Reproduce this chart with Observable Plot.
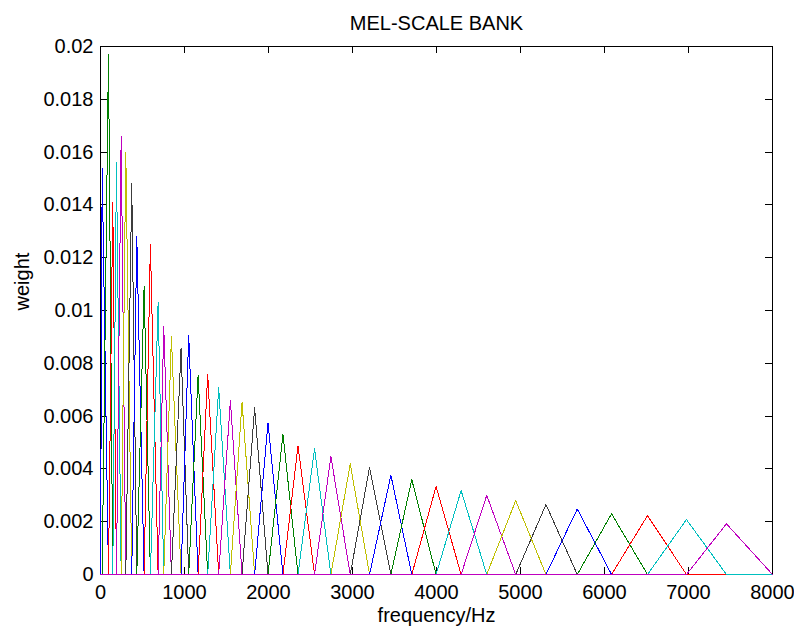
<!DOCTYPE html>
<html>
<head>
<meta charset="utf-8">
<script src="https://cdn.jsdelivr.net/npm/d3@7"></script>
<script src="https://cdn.jsdelivr.net/npm/@observablehq/plot@0.6"></script>
<style>
  body { margin: 0; background: #fff; }
  #chart svg { font-family: Arial, "Liberation Sans", sans-serif; display: block; }
</style>
</head>
<body>
<div id="chart"></div>
<script>
// Filter centre frequencies (Hz)
const centers = [20, 95, 146, 190, 246, 301, 372, 432, 519, 594, 686, 753, 844, 959,
  1050, 1162, 1276, 1407, 1546, 1685, 1835, 1994, 2172, 2351, 2548, 2743, 2973, 3203,
  3457, 3706, 3995, 4293, 4598, 4943, 5303, 5676, 6084, 6512, 6976, 7452];
// Peak weight of each filter
const peaks = [0.0154, 0.0197, 0.0141, 0.0156, 0.0166, 0.0160, 0.0148, 0.0128, 0.0109,
  0.0125, 0.0103, 0.0094, 0.0090, 0.00857, 0.00906, 0.00754, 0.00758, 0.00707, 0.00659,
  0.00653, 0.00631, 0.00574, 0.00532, 0.00488, 0.00476, 0.00447, 0.00419, 0.00406,
  0.00376, 0.00359, 0.00334, 0.00318, 0.00300, 0.00280, 0.00265, 0.00248, 0.00230,
  0.00223, 0.00208, 0.00192];
const fRange = [0, 8000];
const wRange = [0, 0.02];
const colorCycle = ["#0000ff", "#008000", "#ff0000", "#00bfbf", "#bf00bf", "#bfbf00", "#3c3c3c"];
const xTicks = [0, 1000, 2000, 3000, 4000, 5000, 6000, 7000, 8000];
const xTickLabels = ["0", "1000", "2000", "3000", "4000", "5000", "6000", "7000", "8000"];
const yTicks = [0, 0.002, 0.004, 0.006, 0.008, 0.01, 0.012, 0.014, 0.016, 0.018, 0.02];
const yTickLabels = ["0", "0.002", "0.004", "0.006", "0.008", "0.01", "0.012", "0.014", "0.016", "0.018", "0.02"];
const titleText = "MEL-SCALE BANK";
const xLabel = "frequency/Hz";
const yLabel = "weight";

// Each filter is drawn across the whole frequency range (zero outside its triangle)
const rows = [];
centers.forEach((c, i) => {
  const left = i === 0 ? fRange[0] : centers[i - 1];
  const right = i === centers.length - 1 ? fRange[1] : centers[i + 1];
  const color = colorCycle[i % colorCycle.length];
  [[fRange[0], 0], [left, 0], [c, peaks[i]], [right, 0], [fRange[1], 0]].forEach(([f, w]) =>
    rows.push({k: i, f, w, color}));
});

const W = 794, H = 630, mL = 100, mR = 22, mT = 46, mB = 56;
const plotW = W - mL - mR, plotH = H - mT - mB, tick = 7;
const crisp = {stroke: "black", shapeRendering: "crispEdges"};

const chart = Plot.plot({
  width: W, height: H,
  marginLeft: mL, marginRight: mR, marginTop: mT, marginBottom: mB,
  style: {fontSize: "20px", fontFamily: "Arial, 'Liberation Sans', sans-serif", background: "white", color: "black"},
  x: {domain: fRange},
  y: {domain: wRange},
  color: {type: "identity"},
  marks: [
    // box (drawn with the scales so the zero lines sit on the bottom edge)
    Plot.ruleX(fRange, crisp),
    Plot.ruleY(wRange, crisp),
    // inward ticks on all four sides
    Plot.ruleX(xTicks, {insetTop: plotH - tick, ...crisp}),
    Plot.ruleX(xTicks, {insetBottom: plotH - tick, ...crisp}),
    Plot.ruleY(yTicks, {insetRight: plotW - tick, ...crisp}),
    Plot.ruleY(yTicks, {insetLeft: plotW - tick, ...crisp}),
    Plot.line(rows, {x: "f", y: "w", z: "k", stroke: "color", strokeWidth: 1, shapeRendering: "crispEdges"}),
    Plot.axisX({ticks: xTicks, tickSize: 0, tickPadding: 10, label: null,
      tickFormat: d => xTickLabels[xTicks.indexOf(d)], fill: "black"}),
    Plot.axisY({ticks: yTicks, tickSize: 0, tickPadding: 7, label: null,
      tickFormat: d => yTickLabels[yTicks.indexOf(d)], fill: "black"}),
    Plot.text([titleText], {frameAnchor: "top", lineAnchor: "middle", dy: -22.5, text: d => d, fill: "black", fontSize: 20}),
    Plot.text([xLabel], {frameAnchor: "bottom", lineAnchor: "middle", dy: 41.5, text: d => d, fill: "black", fontSize: 20}),
    Plot.text([yLabel], {frameAnchor: "left", lineAnchor: "middle", dx: -78, rotate: -90, text: d => d, fill: "black", fontSize: 20})
  ]
});
document.getElementById("chart").appendChild(chart);
</script>
</body>
</html>
